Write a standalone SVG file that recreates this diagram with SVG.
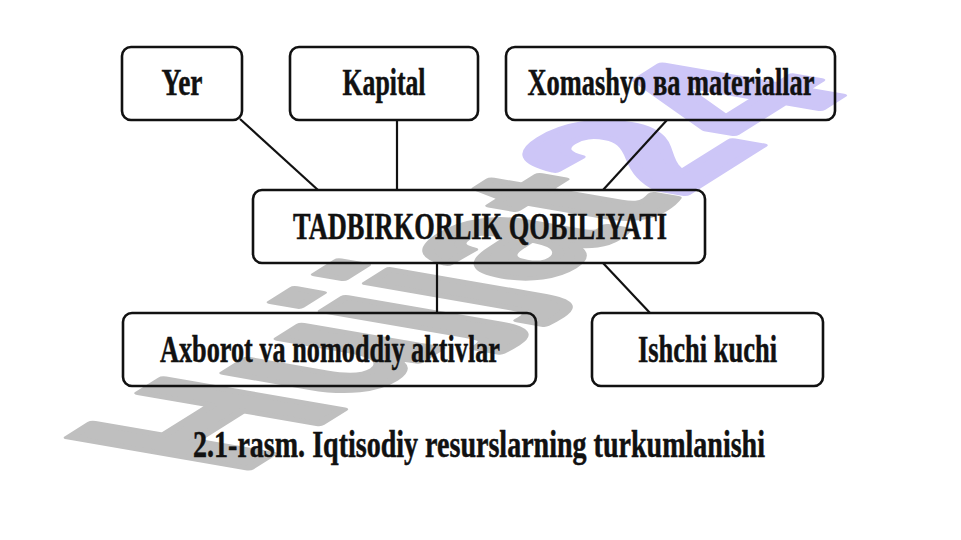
<svg xmlns="http://www.w3.org/2000/svg" width="961" height="540" viewBox="0 0 961 540">
<style>
.box{fill:none;stroke:#111;stroke-width:2.6}
.lbl{font-family:"Liberation Serif","Times New Roman",serif;font-weight:bold;font-size:37px;fill:#111;stroke:#111;stroke-width:0.5;text-anchor:middle}
.wm{font-family:"Liberation Sans",Arial,sans-serif;font-weight:bold;font-size:100px;stroke-width:4;stroke-linejoin:round}
.conn line{stroke:#111;stroke-width:2.2}
</style>
<rect x="0" y="0" width="961" height="540" fill="#fff"/>
<g id="watermark">
<text class="wm" transform="matrix(1.59,-1.0,2.6,0.45,238,475)"><tspan fill="#bfbfbf" stroke="#bfbfbf">Hujjat</tspan><tspan fill="#cdc6f7" stroke="#cdc6f7">24</tspan></text>
</g>
<g id="connectors" class="conn">
<line x1="240" y1="119" x2="318" y2="190"/>
<line x1="397" y1="120" x2="397" y2="190"/>
<line x1="667" y1="120" x2="603" y2="190"/>
<line x1="437" y1="263" x2="437" y2="313"/>
<line x1="603" y1="263" x2="650" y2="313"/>
</g>
<g id="yer">
<rect class="box" x="122" y="47" width="120" height="73" rx="9"/>
<text class="lbl" x="182" y="95" textLength="41" lengthAdjust="spacingAndGlyphs">Yer</text>
</g>
<g id="kapital">
<rect class="box" x="290" y="47" width="188" height="73" rx="9"/>
<text class="lbl" x="384" y="95" textLength="83" lengthAdjust="spacingAndGlyphs">Kapital</text>
</g>
<g id="xomashyo">
<rect class="box" x="506" y="47" width="329" height="73" rx="9"/>
<text class="lbl" x="671" y="95" textLength="287" lengthAdjust="spacingAndGlyphs">Xomashyo ва materiallar</text>
</g>
<g id="tadbirkorlik">
<rect class="box" x="253" y="190" width="452" height="73" rx="9"/>
<text class="lbl" x="480" y="239" textLength="374" lengthAdjust="spacingAndGlyphs">TADBIRKORLIK QOBILIYATI</text>
</g>
<g id="axborot">
<rect class="box" x="123" y="313" width="413" height="73" rx="9"/>
<text class="lbl" x="330" y="362" textLength="340" lengthAdjust="spacingAndGlyphs">Axborot va nomoddiy aktivlar</text>
</g>
<g id="ishchi">
<rect class="box" x="592" y="313" width="231" height="73" rx="9"/>
<text class="lbl" x="707.5" y="362" textLength="139" lengthAdjust="spacingAndGlyphs">Ishchi kuchi</text>
</g>
<text class="lbl" x="479" y="457" textLength="572" lengthAdjust="spacingAndGlyphs">2.1-rasm. Iqtisodiy resurslarning turkumlanishi</text>
</svg>
